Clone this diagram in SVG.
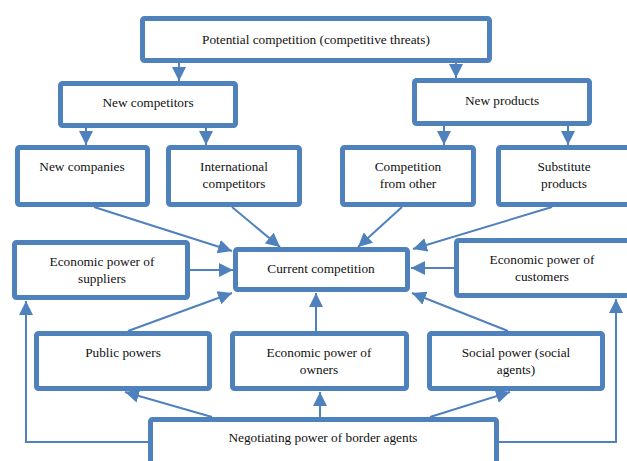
<svg xmlns="http://www.w3.org/2000/svg" width="627" height="461" viewBox="0 0 627 461">
<style>
.box{fill:#fff;stroke:#4F81BD;stroke-width:5;}
text{font-family:"Liberation Serif","Times New Roman","DejaVu Serif",serif;font-size:13.3px;fill:#111;text-anchor:middle;}
.c{fill:none;stroke:#4F81BD;stroke-width:2;}
</style>
<defs>
<marker id="ah" markerUnits="userSpaceOnUse" markerWidth="14" markerHeight="14" refX="14" refY="7" orient="auto">
<path d="M0,0 L14,7 L0,14 z" fill="#4F81BD"/>
</marker>
</defs>
<rect width="627" height="461" fill="#fff"/>
<g id="connectors">
<line class="c" x1="179" y1="63" x2="179" y2="81" marker-end="url(#ah)"/>
<line class="c" x1="456" y1="63" x2="456" y2="78" marker-end="url(#ah)"/>
<line class="c" x1="86" y1="128" x2="86" y2="145" marker-end="url(#ah)"/>
<line class="c" x1="206" y1="128" x2="206" y2="145" marker-end="url(#ah)"/>
<line class="c" x1="444" y1="126" x2="444" y2="145" marker-end="url(#ah)"/>
<line class="c" x1="568" y1="126" x2="568" y2="145" marker-end="url(#ah)"/>
<line class="c" x1="94" y1="207" x2="232" y2="251" marker-end="url(#ah)"/>
<line class="c" x1="232" y1="207" x2="280" y2="247" marker-end="url(#ah)"/>
<line class="c" x1="402" y1="207" x2="358" y2="247" marker-end="url(#ah)"/>
<line class="c" x1="552" y1="207" x2="413" y2="249" marker-end="url(#ah)"/>
<line class="c" x1="190" y1="270" x2="233" y2="270" marker-end="url(#ah)"/>
<line class="c" x1="454" y1="268" x2="411" y2="268" marker-end="url(#ah)"/>
<line class="c" x1="128" y1="331" x2="232" y2="293" marker-end="url(#ah)"/>
<line class="c" x1="316" y1="331" x2="316" y2="293" marker-end="url(#ah)"/>
<line class="c" x1="508" y1="331" x2="412" y2="293" marker-end="url(#ah)"/>
<line class="c" x1="212" y1="417" x2="125" y2="392" marker-end="url(#ah)"/>
<line class="c" x1="320" y1="417" x2="320" y2="392" marker-end="url(#ah)"/>
<line class="c" x1="430" y1="417" x2="510" y2="392" marker-end="url(#ah)"/>
<polyline class="c" points="150,442 26,442 26,301" marker-end="url(#ah)"/>
<polyline class="c" points="497,442 616,442 616,299" marker-end="url(#ah)"/>
</g>
<g id="potential"><rect class="box" x="142.5" y="18.5" width="347" height="42" rx="2"/><text x="316" y="44">Potential competition (competitive threats)</text></g>
<g id="new-competitors"><rect class="box" x="60.5" y="83.5" width="175" height="42" rx="2"/><text x="148" y="107">New competitors</text></g>
<g id="new-products"><rect class="box" x="414.5" y="80.5" width="175" height="43" rx="2"/><text x="502" y="105">New products</text></g>
<g id="new-companies"><rect class="box" x="17.5" y="147.5" width="130" height="57" rx="2"/><text x="82" y="171">New companies</text></g>
<g id="international"><rect class="box" x="168.5" y="147.5" width="131" height="57" rx="2"/><text x="234" y="171">International</text><text x="234" y="188">competitors</text></g>
<g id="competition-other"><rect class="box" x="342.5" y="147.5" width="131" height="57" rx="2"/><text x="408" y="171">Competition</text><text x="408" y="188">from other</text></g>
<g id="substitute"><rect class="box" x="498.5" y="147.5" width="131" height="57" rx="2"/><text x="564" y="171">Substitute</text><text x="564" y="188">products</text></g>
<g id="suppliers"><rect class="box" x="14.5" y="242.5" width="173" height="55" rx="2"/><text x="102" y="266">Economic power of</text><text x="102" y="283">suppliers</text></g>
<g id="current"><rect class="box" x="235.5" y="249.5" width="172" height="40" rx="2"/><text x="321" y="273">Current competition</text></g>
<g id="customers"><rect class="box" x="456.5" y="240.5" width="175" height="55" rx="2"/><text x="542" y="264">Economic power of</text><text x="542" y="281">customers</text></g>
<g id="public"><rect class="box" x="36.5" y="333.5" width="173" height="55" rx="2"/><text x="123" y="357">Public powers</text></g>
<g id="owners"><rect class="box" x="232.5" y="333.5" width="174" height="55" rx="2"/><text x="319" y="357">Economic power of</text><text x="319" y="374">owners</text></g>
<g id="social"><rect class="box" x="429.5" y="333.5" width="173" height="55" rx="2"/><text x="516" y="357">Social power (social</text><text x="516" y="374">agents)</text></g>
<g id="negotiating"><rect class="box" x="150.5" y="419.5" width="346" height="45" rx="2"/><text x="323" y="442">Negotiating power of border agents</text></g>
</svg>
